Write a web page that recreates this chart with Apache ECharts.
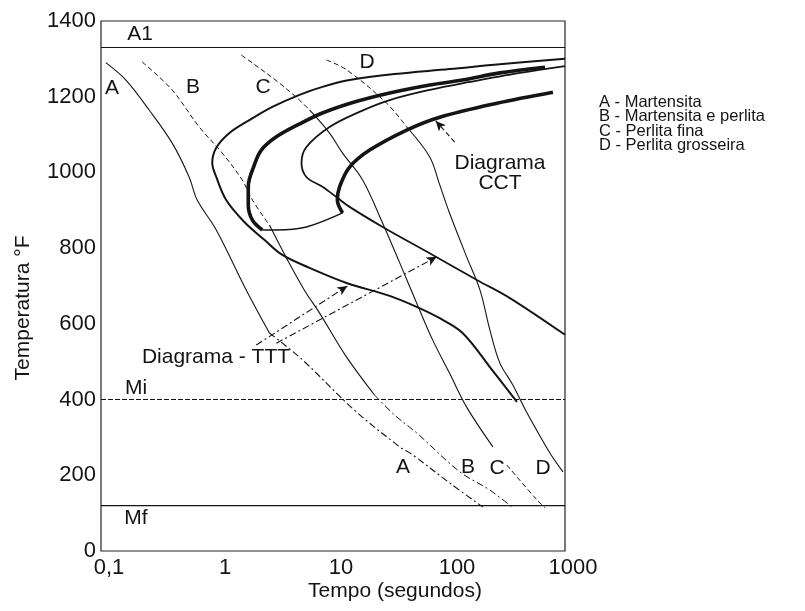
<!DOCTYPE html>
<html>
<head>
<meta charset="utf-8">
<script src="https://cdn.jsdelivr.net/npm/echarts@6/dist/echarts.min.js"></script>
<style>
  html, body { margin: 0; padding: 0; background: #ffffff; }
  #chart { width: 805px; height: 611px; }
</style>
</head>
<body>
<div id="chart"></div>
<script>
// Axis ranges and tick labels
const timeRange = [0.1, 1000];            // seconds, log scale
const tempTicks = [0, 200, 400, 600, 800, 1000, 1200, 1400];

// Critical temperatures (°F)
const tempA1 = 1330;
const tempMi = 400;
const tempMf = 120;

// Cooling curves A–D: [time (s), temperature (°F)]
const coolA_upper = [[0.11,1290],[0.164,1244],[0.26,1165],[0.41,1078],[0.575,988],[0.675,927],[0.986,848],[1.79,689],[2.83,576]];
const coolA_lower = [[2.83,576],[5.45,505],[15.3,372],[37.6,275],[48.6,254],[101,180],[196,116]];

const coolB_upper = [[0.226,1292],[0.41,1218],[0.703,1120],[1.11,1051],[1.65,980],[2.02,927],[2.83,861]];
const coolB_mid   = [[2.83,861],[4.05,769],[5.67,689],[7.64,629],[13.1,512],[22.8,412]];
const coolB_lower = [[22.8,412],[34.0,359],[52.6,312],[124,209],[225,161],[356,114]];

const coolC_upper = [[1.62,1310],[2.02,1289],[3.45,1236],[5.14,1191],[6.27,1165]];
const coolC_mid   = [[6.27,1165],[9.33,1104],[12.1,1051],[18.0,980],[26.8,866],[37.6,761],[52.6,655],[72.4,557],[101,470],[142,380],[239,275]];
const coolC_lower = [[315,227],[573,135],[672,114]];

const coolD_upper = [[8.79,1297],[13.1,1271],[29.0,1183],[43.2,1120]];
const coolD_mid   = [[43.2,1120],[68.2,1041],[83.2,967],[101,893],[142,777],[185,689],[225,584],[274,497],[356,438],[470,365],[741,259],[962,209]];

// Isothermal (TTT) transformation: start and finish curves
const tttStart = [[1000,1300],[274,1286],[101,1273],[34.0,1260],[13.9,1244],[8.11,1226],[5.14,1205],[3.00,1173],[1.90,1138],[1.28,1104],[0.986,1065],[0.91,1025],[0.986,988],[1.20,927],[1.72,869],[2.56,822],[3.66,782],[6.27,748],[13.1,708],[30.8,674],[52.6,645],[83.2,615],[131,576],[225,486],[385,394]];
const tttEnd   = [[1000,1281],[408,1263],[151,1239],[68.2,1218],[30.8,1191],[16.9,1160],[9.33,1120],[5.90,1067],[5.35,1025],[5.90,988],[8.11,962],[10.7,935],[13.9,909],[26.8,856],[72.4,782],[174,716],[335,668],[1000,571]];

// Continuous cooling (CCT) transformation: start, finish and lower boundary
const cctStart = [[672,1278],[274,1263],[131,1244],[68.2,1231],[30.8,1210],[15.3,1186],[8.11,1157],[5.14,1128],[3.25,1094],[2.41,1059],[2.10,1020],[1.86,962],[1.86,914],[2.02,874],[2.46,848]];
const cctEnd   = [[787,1212],[259,1183],[83.2,1146],[43.2,1112],[20.7,1059],[13.9,1014],[11.4,962],[10.9,927],[12.1,893]];
const cctFloor = [[2.46,848],[3.25,848],[5.90,856],[12.1,893]];

// Pointer arrows [from, to]
const arrowTTT1 = [[2.18,544],[13.3,700]];
const arrowTTT2 = [[3.25,549],[78.3,777]];
const arrowCCT  = [[112,1080],[76.9,1136]];

// Legend entries
const legendLines = ['A - Martensita', 'B - Martensita e perlita', 'C - Perlita fina', 'D - Perlita grosseira'];

const FONT = '"Liberation Sans", Arial, Helvetica, sans-serif';
const INK = '#141414';

function curve(name, data, width, dash, smooth) {
  return {
    name, type: 'line', data, silent: true,
    showSymbol: false, symbol: 'none',
    smooth: smooth === undefined ? 0.35 : smooth,
    lineStyle: { color: INK, width, type: dash || 'solid' },
    z: 3
  };
}

function arrow(name, pair, dash) {
  return {
    name, type: 'line', data: [], silent: true,
    markLine: {
      silent: true, animation: false,
      symbol: ['none', 'arrow'], symbolSize: [7, 10],
      label: { show: false },
      lineStyle: { color: INK, width: 1.1, type: dash },
      data: [[{ coord: pair[0] }, { coord: pair[1] }]]
    }
  };
}

function hLine(name, temp, width, dash) {
  return curve(name, [[timeRange[0], temp], [timeRange[1], temp]], width, dash, false);
}

function text(str, x, y, size, align, rotation) {
  return {
    type: 'text', x, y, rotation: rotation || 0, silent: true,
    style: {
      text: str, font: size + 'px ' + FONT, fill: INK,
      textAlign: align || 'center', textVerticalAlign: 'middle',
      align: align || 'center', verticalAlign: 'middle'
    }
  };
}

const chart = echarts.init(document.getElementById('chart'), null, { renderer: 'canvas' });

const dashCool = [5, 3];
const dashDot = [7, 3, 2, 3];

chart.setOption({
  animation: false,
  backgroundColor: '#ffffff',
  textStyle: { fontFamily: FONT },
  grid: { left: 101, right: 240, top: 21, bottom: 60, show: true, borderColor: '#222', borderWidth: 1.2, backgroundColor: 'transparent' },
  xAxis: {
    type: 'log', logBase: 10, min: timeRange[0], max: timeRange[1],
    axisLine: { show: false }, axisTick: { show: false }, splitLine: { show: false }, minorTick: { show: false },
    axisLabel: {
      fontSize: 22, color: INK, margin: 6, fontFamily: FONT, padding: [0, 0, 0, 16],
      formatter: v => String(Number(Number(v).toPrecision(3))).replace('.', ',')
    }
  },
  yAxis: {
    type: 'value', min: tempTicks[0], max: tempTicks[tempTicks.length - 1], interval: 200,
    axisLine: { show: false }, axisTick: { show: false }, splitLine: { show: false },
    axisLabel: { fontSize: 22, color: INK, margin: 5, fontFamily: FONT, formatter: v => String(v) }
  },
  series: [
    hLine('A1', tempA1, 1.2, 'solid'),
    hLine('Mi', tempMi, 1.1, [5, 2]),
    hLine('Mf', tempMf, 1.2, 'solid'),

    curve('A superior', coolA_upper, 1.1),
    curve('A inferior', coolA_lower, 1.1, dashDot),
    curve('B superior', coolB_upper, 1.0, dashCool),
    curve('B central', coolB_mid, 1.1),
    curve('B inferior', coolB_lower, 1.0, dashDot),
    curve('C superior', coolC_upper, 1.0, dashCool),
    curve('C central', coolC_mid, 1.1),
    curve('C inferior', coolC_lower, 1.0, dashCool),
    curve('D superior', coolD_upper, 1.0, dashCool),
    curve('D central', coolD_mid, 1.1),

    curve('TTT início', tttStart, 2.0),
    curve('TTT fim', tttEnd, 1.8),
    curve('CCT início', cctStart, 3.6),
    curve('CCT fim', cctEnd, 3.6),
    curve('CCT limite', cctFloor, 1.5),

    arrow('seta TTT 1', arrowTTT1, dashDot),
    arrow('seta TTT 2', arrowTTT2, dashDot),
    arrow('seta CCT', arrowCCT, [5, 3])
  ],
  graphic: [
    text('Temperatura °F', 23, 308, 21, 'center', Math.PI / 2),
    text('Tempo (segundos)', 395, 591, 21),
    text('A1', 140, 34, 21),
    text('A', 112, 88, 21),
    text('B', 193, 87, 21),
    text('C', 263, 87, 21),
    text('D', 367, 62, 21),
    text('Diagrama', 500, 163, 21),
    text('CCT', 500, 183, 21),
    text('Diagrama - TTT', 216, 357, 21),
    text('Mi', 136, 388, 21),
    text('Mf', 136, 518, 21),
    text('A', 403, 467, 21),
    text('B', 468, 467, 21),
    text('C', 497, 468, 21),
    text('D', 543, 468, 21),
    text(legendLines[0], 599, 102, 16.5, 'left'),
    text(legendLines[1], 599, 116.5, 16.5, 'left'),
    text(legendLines[2], 599, 131, 16.5, 'left'),
    text(legendLines[3], 599, 145.5, 16.5, 'left')
  ]
});
</script>
</body>
</html>
